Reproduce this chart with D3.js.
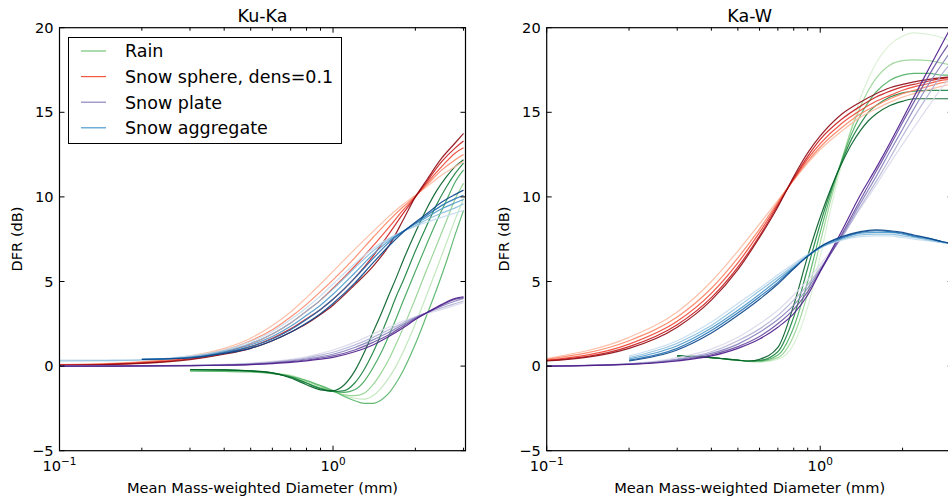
<!DOCTYPE html>
<html>
<head>
<meta charset="utf-8">
<script src="https://cdn.jsdelivr.net/npm/d3@7"></script>
<style>
  body { margin: 0; background: #fff; }
  svg { font-family: "DejaVu Sans", sans-serif; }
</style>
</head>
<body>
<script>
// Mean mass-weighted diameter grids (mm)
const dmSnow = [0.1, 0.15, 0.2, 0.3, 0.4, 0.5, 0.6, 0.7, 0.8, 0.9, 1.0, 1.2, 1.4, 1.6, 1.8, 2.0, 2.2, 2.5, 2.8, 3.0];
const dmRain = [0.3, 0.4, 0.5, 0.6, 0.7, 0.8, 0.9, 1.0, 1.1, 1.2, 1.3, 1.4, 1.5, 1.6, 1.7, 1.8, 2.0, 2.2, 2.4, 2.6, 2.8, 3.0];
const dmSnowW = [0.1, 0.2, 0.3, 0.4, 0.5, 0.6, 0.7, 0.8, 0.9, 1.0, 1.2, 1.4, 1.6, 1.8, 2.0, 2.2, 2.5, 2.8, 3.0];
const dmRainW = [0.3, 0.4, 0.5, 0.55, 0.6, 0.7, 0.8, 0.9, 1.0, 1.1, 1.2, 1.3, 1.4, 1.5, 1.6, 1.8, 2.0, 2.2, 2.5, 2.8, 3.0];

// Ku-Ka DFR (dB)
const kukaRain = [
  [-0.2, -0.22, -0.28, -0.4, -0.7, -1.1, -1.4, -1.45, -1.1, -0.3, 0.8, 2.0, 3.1, 4.2, 5.2, 6.2, 7.9, 9.3, 10.4, 11.2, 11.8, 12.2],
  [-0.2, -0.22, -0.28, -0.4, -0.65, -1.0, -1.35, -1.5, -1.45, -1.0, -0.2, 0.8, 1.9, 3.0, 4.1, 5.0, 6.8, 8.3, 9.6, 10.6, 11.4, 12.0],
  [-0.22, -0.24, -0.3, -0.42, -0.65, -1.0, -1.3, -1.5, -1.55, -1.4, -0.9, -0.1, 0.8, 1.8, 2.8, 3.8, 5.6, 7.2, 8.6, 9.8, 10.9, 11.6],
  [-0.25, -0.27, -0.3, -0.42, -0.6, -0.9, -1.2, -1.5, -1.7, -1.75, -1.6, -1.1, -0.4, 0.4, 1.3, 2.2, 4.0, 5.7, 7.2, 8.6, 9.9, 10.8],
  [-0.25, -0.27, -0.3, -0.4, -0.55, -0.85, -1.15, -1.45, -1.75, -1.9, -1.95, -1.75, -1.3, -0.7, 0.0, 0.8, 2.5, 4.2, 5.8, 7.3, 8.7, 9.9],
  [-0.3, -0.32, -0.35, -0.45, -0.6, -0.85, -1.15, -1.45, -1.8, -2.05, -2.2, -2.2, -2.0, -1.6, -1.0, -0.3, 1.3, 3.0, 4.6, 6.2, 7.8, 9.2]
];
const kukaSphere = [
  [0.1, 0.16, 0.27, 0.6, 1.05, 1.65, 2.4, 3.2, 4.05, 4.85, 5.6, 6.9, 7.95, 8.85, 9.55, 10.1, 10.6, 11.3, 11.8, 12.1],
  [0.08, 0.14, 0.24, 0.54, 0.95, 1.5, 2.15, 2.9, 3.65, 4.4, 5.1, 6.4, 7.6, 8.6, 9.4, 10.05, 10.7, 11.6, 12.2, 12.5],
  [0.07, 0.12, 0.21, 0.48, 0.85, 1.32, 1.9, 2.55, 3.25, 3.9, 4.6, 5.9, 7.1, 8.2, 9.2, 10.0, 10.8, 11.8, 12.6, 12.9],
  [0.06, 0.1, 0.18, 0.42, 0.75, 1.15, 1.65, 2.2, 2.8, 3.35, 3.95, 5.2, 6.5, 7.8, 9.0, 10.0, 10.9, 12.1, 12.9, 13.3],
  [0.05, 0.09, 0.16, 0.38, 0.7, 1.05, 1.5, 2.0, 2.5, 3.05, 3.6, 4.8, 5.9, 7.1, 8.6, 10.0, 11.0, 12.3, 13.2, 13.75]
];
const kukaPlate = [
  [0, 0.01, 0.02, 0.05, 0.1, 0.18, 0.28, 0.4, 0.55, 0.75, 0.95, 1.4, 1.9, 2.3, 2.65, 2.9, 3.1, 3.35, 3.6, 3.75],
  [0, 0.01, 0.02, 0.04, 0.08, 0.15, 0.24, 0.35, 0.48, 0.65, 0.82, 1.25, 1.7, 2.15, 2.55, 2.9, 3.15, 3.45, 3.7, 3.85],
  [0, 0.01, 0.01, 0.03, 0.07, 0.12, 0.2, 0.3, 0.42, 0.55, 0.7, 1.1, 1.55, 2.0, 2.45, 2.85, 3.15, 3.55, 3.85, 4.0],
  [0, 0.0, 0.01, 0.03, 0.06, 0.1, 0.17, 0.26, 0.36, 0.48, 0.6, 0.95, 1.4, 1.85, 2.35, 2.8, 3.15, 3.6, 3.95, 4.05],
  [0, 0.0, 0.01, 0.02, 0.05, 0.09, 0.15, 0.22, 0.31, 0.41, 0.52, 0.85, 1.25, 1.75, 2.25, 2.75, 3.15, 3.65, 4.0, 4.1]
];
const kukaAggregate = [
  [0.35, 0.36, 0.38, 0.6, 0.95, 1.45, 2.05, 2.75, 3.45, 4.15, 4.85, 6.05, 6.95, 7.55, 7.95, 8.25, 8.5, 8.8, 9.05, 9.2],
  [0.3, 0.32, 0.36, 0.55, 0.9, 1.35, 1.9, 2.55, 3.25, 3.9, 4.55, 5.8, 6.8, 7.5, 7.95, 8.3, 8.65, 9.05, 9.35, 9.6],
  [null, null, 0.4, 0.52, 0.85, 1.25, 1.75, 2.35, 3.0, 3.6, 4.25, 5.5, 6.6, 7.4, 7.95, 8.4, 8.8, 9.3, 9.65, 9.85],
  [null, null, 0.4, 0.5, 0.8, 1.15, 1.6, 2.15, 2.75, 3.35, 3.95, 5.2, 6.35, 7.3, 7.95, 8.45, 8.9, 9.5, 9.9, 10.1],
  [null, null, 0.4, 0.48, 0.75, 1.05, 1.5, 2.0, 2.55, 3.1, 3.7, 4.9, 6.1, 7.1, 7.9, 8.5, 9.0, 9.7, 10.15, 10.4]
];

// Ka-W DFR (dB)
const kawRain = [
  [0.6, 0.5, 0.35, 0.3, 0.4, 1.1, 3.6, 6.5, 8.8, 10.6, 12.0, 13.1, 13.9, 14.5, 14.9, 15.4, 15.65, 15.8, 15.8, 15.8, 15.8],
  [0.6, 0.5, 0.35, 0.3, 0.33, 0.85, 2.9, 5.8, 8.4, 10.5, 12.1, 13.4, 14.3, 15.0, 15.4, 15.9, 16.15, 16.25, 16.3, 16.3, 16.3],
  [0.6, 0.5, 0.35, 0.3, 0.3, 0.65, 2.3, 5.0, 7.9, 10.3, 12.2, 13.7, 14.8, 15.6, 16.2, 16.9, 17.2, 17.3, 17.3, 17.2, 17.2],
  [0.6, 0.5, 0.33, 0.28, 0.27, 0.5, 1.8, 4.3, 7.3, 10.0, 12.2, 14.0, 15.3, 16.3, 17.0, 17.8, 18.05, 18.1, 18.05, 17.9, 17.8],
  [0.6, 0.5, 0.33, 0.27, 0.25, 0.4, 1.3, 3.5, 6.5, 9.5, 12.0, 14.1, 15.8, 17.0, 17.9, 19.0, 19.5, 19.7, 19.6, 19.4, 19.2]
];
const kawSphere = [
  [0.45, 1.7, 3.2, 5.0, 6.8, 8.4, 9.8, 11.0, 12.0, 12.8, 13.9, 14.7, 15.2, 15.6, 15.9, 16.1, 16.35, 16.55, 16.65],
  [0.4, 1.5, 2.9, 4.6, 6.4, 8.1, 9.7, 11.0, 12.1, 12.95, 14.1, 14.9, 15.4, 15.8, 16.1, 16.3, 16.55, 16.75, 16.85],
  [0.35, 1.3, 2.65, 4.3, 6.1, 7.9, 9.6, 11.05, 12.25, 13.15, 14.35, 15.1, 15.65, 16.0, 16.3, 16.5, 16.7, 16.9, 16.95],
  [0.32, 1.15, 2.45, 4.05, 5.85, 7.7, 9.5, 11.1, 12.4, 13.4, 14.6, 15.35, 15.9, 16.25, 16.5, 16.65, 16.85, 17.0, 17.05],
  [0.3, 1.05, 2.3, 3.9, 5.7, 7.6, 9.4, 11.2, 12.6, 13.6, 14.9, 15.6, 16.1, 16.45, 16.65, 16.8, 16.95, 17.05, 17.1]
];
const kawPlate = [
  [0, 0.15, 0.5, 1.0, 1.7, 2.5, 3.3, 4.2, 5.1, 6.0, 7.7, 9.3, 10.7, 12.0, 13.1, 14.1, 15.4, 16.5, 17.1],
  [0, 0.13, 0.42, 0.85, 1.5, 2.2, 3.0, 3.9, 4.8, 5.8, 7.6, 9.4, 10.9, 12.3, 13.6, 14.7, 16.1, 17.3, 17.9],
  [0, 0.12, 0.38, 0.75, 1.3, 2.0, 2.75, 3.6, 4.6, 5.7, 7.7, 9.6, 11.2, 12.7, 14.0, 15.2, 16.7, 17.9, 18.6],
  [0, 0.11, 0.33, 0.67, 1.15, 1.75, 2.5, 3.35, 4.4, 5.6, 7.8, 9.8, 11.5, 13.0, 14.4, 15.6, 17.2, 18.5, 19.2],
  [0, 0.1, 0.3, 0.6, 1.05, 1.6, 2.3, 3.1, 4.2, 5.6, 8.0, 10.1, 11.7, 13.2, 14.6, 15.9, 17.6, 19.1, 20.0]
];
const kawAggregate = [
  [null, 0.6, 1.5, 2.6, 3.7, 4.6, 5.4, 6.05, 6.6, 7.0, 7.45, 7.65, 7.7, 7.7, 7.6, 7.5, 7.4, 7.3, 7.25],
  [null, 0.5, 1.35, 2.4, 3.5, 4.45, 5.25, 5.95, 6.55, 7.0, 7.5, 7.75, 7.8, 7.8, 7.7, 7.6, 7.45, 7.3, 7.25],
  [null, 0.42, 1.2, 2.25, 3.3, 4.25, 5.1, 5.85, 6.5, 7.0, 7.55, 7.85, 7.9, 7.9, 7.8, 7.65, 7.5, 7.35, 7.25],
  [null, 0.35, 1.05, 2.1, 3.15, 4.1, 4.95, 5.8, 6.5, 7.05, 7.6, 7.9, 8.0, 7.95, 7.85, 7.7, 7.55, 7.35, 7.25],
  [null, 0.3, 0.95, 1.95, 3.0, 3.95, 4.85, 5.75, 6.5, 7.05, 7.65, 7.95, 8.05, 8.0, 7.9, 7.75, 7.55, 7.35, 7.25]
];

const legendNames = ['Rain', 'Snow sphere, dens=0.1', 'Snow plate', 'Snow aggregate'];
const yTicks = [-5, 0, 5, 10, 15, 20];
const xMajor = [0.1, 1];
const xMinor = [0.2, 0.3, 0.4, 0.5, 0.6, 0.7, 0.8, 0.9, 2, 3];

// colour shades (0..1 along the colormap), one per curve
const shade5 = [0.25, 0.42, 0.6, 0.76, 0.92];
const kukaRainShade = [0.92, 0.8, 0.65, 0.42, 0.28, 0.58];
const kawRainShade = [0.92, 0.78, 0.6, 0.4, 0.18];
const legendColors = ['#74c476', '#f2583e', '#8c84c0', '#4a9bd0'];

const svg = d3.select('body').append('svg')
  .attr('width', 948)
  .attr('height', 502);

const plotTop = 27.7, plotBottom = 450.7, plotW = 406;

const drawPanel = (left, title, families) => {
  const x = d3.scaleLog().domain([0.1, 3.05]).range([left, left + plotW]);
  const y = d3.scaleLinear().domain([-5, 20]).range([plotBottom, plotTop]);
  const g = svg.append('g');
  const clipId = 'clip' + Math.round(left);

  g.append('clipPath').attr('id', clipId)
    .append('rect')
    .attr('x', left).attr('y', plotTop)
    .attr('width', plotW).attr('height', plotBottom - plotTop);

  const line = d3.line()
    .defined((d) => d[1] != null)
    .x((d) => x(d[0]))
    .y((d) => y(d[1]))
    .curve(d3.curveMonotoneX);

  const lines = g.append('g').attr('clip-path', `url(#${clipId})`);
  families.forEach((f) => {
    // light curves first, dark ones on top
    const order = f.curves.map((c, i) => i).sort((a, b) => f.shades[a] - f.shades[b]);
    order.forEach((i) => {
      const pts = f.dm.map((d, k) => [d, f.curves[i][k]]);
      lines.append('path')
        .attr('d', line(pts))
        .attr('fill', 'none')
        .attr('stroke', f.cmap(f.shades[i]))
        .attr('stroke-opacity', 0.9)
        .attr('stroke-width', 1.2);
    });
  });

  // ticks pointing inward on all sides
  const ax = g.append('g').attr('stroke', '#000').attr('stroke-width', 1);
  yTicks.forEach((t) => {
    ax.append('line').attr('x1', left).attr('x2', left + 5).attr('y1', y(t)).attr('y2', y(t));
    ax.append('line').attr('x1', left + plotW).attr('x2', left + plotW - 5).attr('y1', y(t)).attr('y2', y(t));
  });
  xMajor.concat(xMinor).forEach((t) => {
    const len = xMajor.includes(t) ? 5 : 3;
    ax.append('line').attr('x1', x(t)).attr('x2', x(t)).attr('y1', plotBottom).attr('y2', plotBottom - len);
    ax.append('line').attr('x1', x(t)).attr('x2', x(t)).attr('y1', plotTop).attr('y2', plotTop + len);
  });

  g.append('rect')
    .attr('x', left).attr('y', plotTop)
    .attr('width', plotW).attr('height', plotBottom - plotTop)
    .attr('fill', 'none').attr('stroke', '#000').attr('stroke-width', 1.2);

  g.selectAll('.ylab')
    .data(yTicks)
    .enter()
    .append('text')
    .attr('x', left - 6)
    .attr('y', (d) => y(d))
    .attr('dy', '0.35em')
    .attr('text-anchor', 'end')
    .style('font-size', '14.6px')
    .text((d) => d3.format('')(d));

  xMajor.forEach((t) => {
    const txt = g.append('text')
      .attr('x', x(t))
      .attr('y', 471)
      .attr('text-anchor', 'middle')
      .style('font-size', '14.6px');
    txt.append('tspan').text('10');
    txt.append('tspan')
      .attr('dy', -6)
      .style('font-size', '10.5px')
      .text(t < 1 ? '−1' : '0');
  });

  g.append('text')
    .attr('x', left + plotW / 2)
    .attr('y', 493)
    .attr('text-anchor', 'middle')
    .style('font-size', '14.6px')
    .text('Mean Mass-weighted Diameter (mm)');

  g.append('text')
    .attr('transform', `translate(${left - 37.5},239) rotate(-90)`)
    .attr('text-anchor', 'middle')
    .style('font-size', '14.6px')
    .text('DFR (dB)');

  g.append('text')
    .attr('x', left + plotW / 2)
    .attr('y', 22)
    .attr('text-anchor', 'middle')
    .style('font-size', '17.5px')
    .text(title);
};

drawPanel(59.5, 'Ku-Ka', [
  { dm: dmRain, curves: kukaRain, cmap: d3.interpolateGreens, shades: kukaRainShade },
  { dm: dmSnow, curves: kukaSphere, cmap: d3.interpolateReds, shades: shade5 },
  { dm: dmSnow, curves: kukaPlate, cmap: d3.interpolatePurples, shades: shade5 },
  { dm: dmSnow, curves: kukaAggregate, cmap: d3.interpolateBlues, shades: shade5 }
]);

drawPanel(546.7, 'Ka-W', [
  { dm: dmRainW, curves: kawRain, cmap: d3.interpolateGreens, shades: kawRainShade },
  { dm: dmSnowW, curves: kawSphere, cmap: d3.interpolateReds, shades: shade5 },
  { dm: dmSnowW, curves: kawPlate, cmap: d3.interpolatePurples, shades: shade5 },
  { dm: dmSnowW, curves: kawAggregate, cmap: d3.interpolateBlues, shades: shade5 }
]);

// legend in the Ku-Ka panel
const legend = svg.append('g');
legend.append('rect')
  .attr('x', 68.5).attr('y', 37.5)
  .attr('width', 273).attr('height', 106)
  .attr('fill', '#fff').attr('stroke', '#000').attr('stroke-width', 1);

legend.selectAll('.entry')
  .data(legendNames)
  .enter()
  .append('g')
  .attr('transform', (d, i) => `translate(0,${51 + i * 25.6})`)
  .each(function (d, i) {
    const e = d3.select(this);
    e.append('line')
      .attr('x1', 81).attr('x2', 106)
      .attr('stroke', legendColors[i]).attr('stroke-width', 1.2);
    e.append('text')
      .attr('x', 125)
      .attr('dy', '0.36em')
      .style('font-size', '17.5px')
      .text(d);
  });
</script>
</body>
</html>
